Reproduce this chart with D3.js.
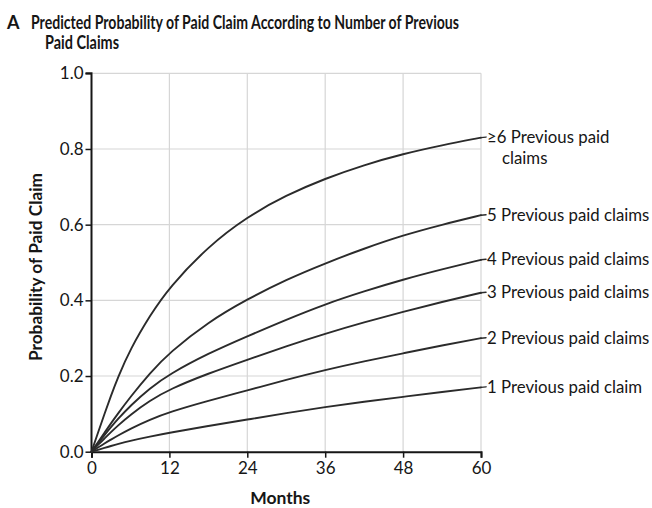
<!DOCTYPE html>
<html>
<head>
<meta charset="utf-8">
<script src="https://cdn.jsdelivr.net/npm/d3@7"></script>
<style>
  html, body { margin: 0; padding: 0; background: #fff; }
  svg { display: block; font-family: Lato, "Open Sans", sans-serif; }
</style>
</head>
<body>
<svg id="chart" width="652" height="508"></svg>
<script>
// Months at which the predicted probabilities are given
const months = [0, 1, 2, 3, 4, 6, 9, 12, 18, 24, 30, 36, 42, 48, 54, 60];

// Predicted probability of a paid claim, by number of previous paid claims
const prob6plus = [0, 0.05, 0.10, 0.148, 0.194, 0.272, 0.36, 0.435, 0.543, 0.621, 0.678, 0.722, 0.758, 0.787, 0.81, 0.83];
const prob5 = [0, 0.025, 0.05, 0.075, 0.099, 0.145, 0.208, 0.262, 0.343, 0.403, 0.455, 0.498, 0.537, 0.572, 0.60, 0.625];
const prob4 = [0, 0.022, 0.044, 0.065, 0.085, 0.122, 0.168, 0.205, 0.26, 0.305, 0.349, 0.39, 0.424, 0.455, 0.482, 0.507];
const prob3 = [0, 0.018, 0.035, 0.052, 0.068, 0.098, 0.135, 0.165, 0.207, 0.243, 0.279, 0.312, 0.342, 0.37, 0.396, 0.42];
const prob2 = [0, 0.011, 0.022, 0.032, 0.042, 0.061, 0.085, 0.105, 0.135, 0.162, 0.19, 0.216, 0.239, 0.26, 0.281, 0.30];
const prob1 = [0, 0.005, 0.01, 0.015, 0.02, 0.029, 0.04, 0.05, 0.068, 0.085, 0.102, 0.118, 0.132, 0.145, 0.158, 0.17];

const seriesValues = [prob6plus, prob5, prob4, prob3, prob2, prob1];
const seriesLabels = [
  ["\u22656 Previous paid", "claims"],
  ["5 Previous paid claims"],
  ["4 Previous paid claims"],
  ["3 Previous paid claims"],
  ["2 Previous paid claims"],
  ["1 Previous paid claim"]
];

const xTicks = [0, 12, 24, 36, 48, 60];
const yTicks = [0, 0.2, 0.4, 0.6, 0.8, 1.0];

const titleLetter = "A";
const titleLines = ["Predicted Probability of Paid Claim According to Number of Previous", "Paid Claims"];
const xTitle = "Months";
const yTitle = "Probability of Paid Claim";

const svg = d3.select("#chart");
const ink = "#161616";
const gridColor = "#d6d6d6";

const plot = { left: 91.5, right: 481, top: 73.3, bottom: 451.7 };

const x = d3.scaleLinear().domain([0, 60]).range([plot.left, plot.right]);
const y = d3.scaleLinear().domain([0, 1]).range([plot.bottom, plot.top]);

// Title
const title = svg.append("g").attr("fill", ink).attr("font-weight", "bold");
title.append("text").attr("x", 7).attr("y", 29).attr("font-size", 18).text(titleLetter);
title.append("text").attr("x", 31).attr("y", 29).attr("font-size", 18)
  .attr("textLength", 428).attr("lengthAdjust", "spacingAndGlyphs").text(titleLines[0]);
title.append("text").attr("x", 45).attr("y", 49).attr("font-size", 18)
  .attr("textLength", 74).attr("lengthAdjust", "spacingAndGlyphs").text(titleLines[1]);

// Grid lines
const grid = svg.append("g").attr("stroke", gridColor).attr("stroke-width", 1.2);
grid.selectAll("line.v").data(xTicks.filter(d => d > 0)).join("line")
  .attr("x1", d => x(d)).attr("x2", d => x(d))
  .attr("y1", y(1)).attr("y2", y(0));
grid.selectAll("line.h").data(yTicks.filter(d => d > 0)).join("line")
  .attr("x1", x(0)).attr("x2", x(60))
  .attr("y1", d => y(d)).attr("y2", d => y(d));

// Axes
const xAxis = d3.axisBottom(x).tickValues(xTicks).tickSize(6).tickPadding(4).tickFormat(d3.format("d"));
const yAxis = d3.axisLeft(y).tickValues(yTicks).tickSize(6).tickPadding(2).tickFormat(d3.format(".1f"));

const gx = svg.append("g").attr("transform", `translate(0,${y(0)})`).call(xAxis);
const gy = svg.append("g").attr("transform", `translate(${x(0)},0)`).call(yAxis);
[gx, gy].forEach(g => {
  g.select(".domain").attr("stroke", ink).attr("stroke-width", 2);
  g.selectAll(".tick line").attr("stroke", ink).attr("stroke-width", 1.5);
  g.selectAll(".tick text").attr("fill", ink).attr("font-size", 17)
    .attr("font-family", "Lato, sans-serif");
});
gy.select(".domain").attr("d", `M-6,${y(1)}H0V${y(0)}`);

// Axis titles
svg.append("text").attr("x", x(30) - 6).attr("y", 504).attr("text-anchor", "middle")
  .attr("font-size", 17.5).attr("font-weight", "bold").attr("fill", ink).text(xTitle);
svg.append("text").attr("transform", `translate(42,267) rotate(-90)`)
  .attr("text-anchor", "middle").attr("font-size", 17.3).attr("font-weight", "bold")
  .attr("fill", ink).text(yTitle);

// Curves (B-spline through the estimated points keeps them smooth)
const line = d3.line()
  .x((d, i) => x(months[i]))
  .y(d => y(d))
  .curve(d3.curveBasis);

const curves = svg.append("g").attr("fill", "none").attr("stroke", "#2b2b2b")
  .attr("stroke-width", 1.9).attr("stroke-linecap", "round");
curves.selectAll("path").data(seriesValues).join("path").attr("d", d => line(d));

// Short leaders and labels at the end of each curve
const labels = svg.append("g").attr("fill", ink).attr("font-size", 16.8);
seriesValues.forEach((vals, i) => {
  const yEnd = y(vals[vals.length - 1]);
  curves.append("line").attr("x1", x(60)).attr("x2", x(60) + 5)
    .attr("y1", yEnd).attr("y2", yEnd - 0.5).attr("stroke-width", 1.5);
  const t = labels.append("text").attr("x", x(60) + 6).attr("y", yEnd + 5.5);
  seriesLabels[i].forEach((s, j) => {
    t.append("tspan").attr("x", x(60) + (j === 0 ? 6 : 21)).attr("dy", j === 0 ? 0 : 21).text(s);
  });
});
</script>
</body>
</html>
